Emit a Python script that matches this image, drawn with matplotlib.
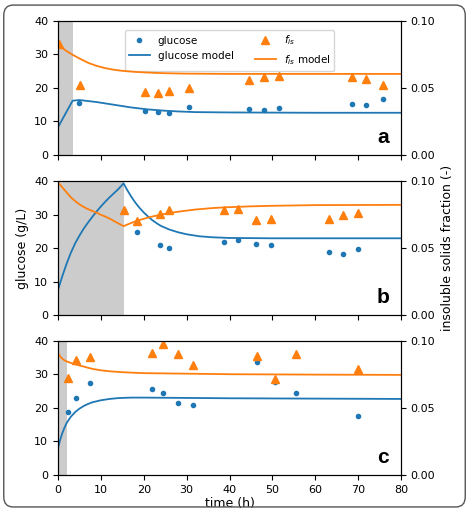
import matplotlib
matplotlib.use('Agg')
import matplotlib.pyplot as plt
from matplotlib.patches import FancyBboxPatch

# --- measured data (time in h) ---
# panel a
t_a = [5.0, 20.2, 23.3, 26.0, 30.5, 44.6, 48.0, 51.6, 68.6, 71.8, 75.7]
glc_a = [15.6, 13.0, 12.7, 12.5, 14.3, 13.6, 13.3, 14.0, 15.1, 15.0, 16.6]
tf_a = [0.3, 5.1, 20.2, 23.3, 26.0, 30.5, 44.6, 48.0, 51.6, 68.6, 71.8, 75.7]
fis_a = [0.0826, 0.052, 0.047, 0.046, 0.048, 0.050, 0.056, 0.058, 0.059, 0.058, 0.0565, 0.052]

# panel b
t_b = [15.4, 18.4, 23.9, 25.8, 38.8, 41.9, 46.2, 49.7, 63.1, 66.5, 69.9]
glc_b = [31.0, 24.9, 20.9, 20.1, 21.7, 22.3, 21.1, 20.8, 18.9, 18.3, 19.6]
tf_b = [15.4, 18.4, 23.9, 25.8, 38.8, 41.9, 46.2, 49.7, 63.1, 66.5, 69.9]
fis_b = [0.078, 0.070, 0.0755, 0.078, 0.078, 0.079, 0.0707, 0.072, 0.0717, 0.075, 0.076]

# panel c
t_c = [2.3, 4.2, 7.4, 21.9, 24.6, 27.9, 31.4, 46.4, 50.6, 55.4, 70.0]
glc_c = [18.7, 23.1, 27.4, 25.8, 24.4, 21.5, 20.9, 33.6, 27.7, 24.6, 17.7]
tf_c = [2.3, 4.2, 7.4, 21.9, 24.6, 27.9, 31.4, 46.4, 50.6, 55.4, 70.0]
fis_c = [0.0727, 0.0858, 0.088, 0.091, 0.0975, 0.090, 0.082, 0.089, 0.0717, 0.090, 0.079]

# --- model curves ---
tm_a = [0, 3.4, 5, 7, 9, 11, 13, 15, 17, 19, 21, 23, 25, 28, 32, 40, 60, 80]
gm_a = [8.3, 16.2, 16.4, 16.1, 15.8, 15.4, 15.0, 14.6, 14.2, 13.9, 13.6, 13.4, 13.2,
        13.0, 12.8, 12.7, 12.6, 12.6]
tfm_a = [0, 1, 2, 3.4, 5, 7, 9, 11, 13, 15, 18, 21, 25, 30, 40, 60, 80]
fm_a = [0.0825, 0.080, 0.0775, 0.0748, 0.0720, 0.0688, 0.0665, 0.0648, 0.0636, 0.0628,
        0.0620, 0.0615, 0.0610, 0.0607, 0.0605, 0.0605, 0.0605]

tm_b = [0, 1, 2, 3, 4, 5, 6, 7, 8, 9, 10, 11, 12, 13, 14, 15.3,
        16, 17, 18, 19, 20, 21, 22, 23, 24, 26, 28, 30, 33, 36, 40, 50, 80]
gm_b = [7.5, 11.6, 15.3, 18.6, 21.4, 23.7, 25.8, 27.6, 29.3, 30.9, 32.4, 33.8, 35.1,
        36.3, 37.5, 39.3,
        37.6, 35.5, 33.6, 32.0, 30.6, 29.4, 28.3, 27.4, 26.6, 25.5, 24.7, 24.1, 23.5,
        23.2, 23.0, 22.9, 22.9]
tfm_b = [0, 1, 2, 3, 4, 5, 6, 7, 8, 9, 10, 11, 12, 13, 14, 15.3,
         16, 17, 18, 19, 20, 21, 22, 23, 25, 28, 32, 36, 40, 45, 50, 60, 80]
fm_b = [0.099, 0.0952, 0.0915, 0.0878, 0.0850, 0.0826, 0.0806, 0.0790, 0.0776, 0.0763,
        0.0748, 0.0735, 0.0720, 0.0702, 0.0685, 0.0663,
        0.0673, 0.0686, 0.0698, 0.0709, 0.0718, 0.0727, 0.0735, 0.0742, 0.0755, 0.0771,
        0.0787, 0.0798, 0.0805, 0.0811, 0.0815, 0.0820, 0.0822]

tm_c = [0, 0.5, 1, 1.5, 2, 3, 4, 5, 6, 7, 8, 10, 12, 14, 17, 20, 30, 40, 60, 80]
gm_c = [8.0, 10.5, 12.5, 14.1, 15.5, 17.4, 18.8, 19.8, 20.6, 21.2, 21.7, 22.3, 22.7,
        22.95, 23.1, 23.1, 23.0, 22.9, 22.8, 22.7]
fm_c = [0.091, 0.0885, 0.0868, 0.0856, 0.0848, 0.0836, 0.0826, 0.0817, 0.0809, 0.0800,
        0.0792, 0.0781, 0.0774, 0.0769, 0.0764, 0.0760, 0.0756, 0.0752, 0.0749, 0.0747]

shade_end = [3.4, 15.3, 2.0]
letters = ['a', 'b', 'c']

BLUE = '#1f77b4'
ORANGE = '#ff7f0e'

panels = [
    (t_a, glc_a, tf_a, fis_a, tm_a, gm_a, tfm_a, fm_a),
    (t_b, glc_b, tf_b, fis_b, tm_b, gm_b, tfm_b, fm_b),
    (t_c, glc_c, tf_c, fis_c, tm_c, gm_c, tm_c, fm_c),
]

fig = plt.figure(figsize=(4.69, 5.09), dpi=100)

# rounded frame around the whole figure
frame = FancyBboxPatch((0.008, 0.004), 0.984, 0.986, boxstyle='round,pad=0,rounding_size=0.02',
                       transform=fig.transFigure, fill=False, edgecolor='#555555', lw=1.0)
fig.patches.append(frame)

left, width, height = 0.1237, 0.7313, 0.2633
bottoms = [0.6955, 0.3811, 0.0668]

for i, (t, g, tf, f, tm, gm, tfm, fm) in enumerate(panels):
    ax = fig.add_axes([left, bottoms[i], width, height])
    ax2 = ax.twinx()
    ax.axvspan(0, shade_end[i], color='0.8', lw=0)
    l1, = ax.plot(t, g, 'o', color=BLUE, ms=3, label='glucose')
    l2, = ax.plot(tm, gm, '-', color=BLUE, lw=1.3, label='glucose model')
    l3, = ax2.plot(tf, f, '^', color=ORANGE, ms=5.5, label=r'$f_{is}$')
    l4, = ax2.plot(tfm, fm, '-', color=ORANGE, lw=1.3, label=r'$f_{is}$ model')

    ax.set_xlim(0, 80)
    ax.set_ylim(0, 40)
    ax2.set_ylim(0, 0.1)
    ax.set_xticks(range(0, 81, 10))
    ax.set_yticks(range(0, 41, 10))
    ax2.set_yticks([0, 0.05, 0.10])
    ax2.set_yticklabels(['0.00', '0.05', '0.10'])
    ax.tick_params(labelsize=8)
    ax2.tick_params(labelsize=8)
    if i < 2:
        ax.tick_params(labelbottom=False)
    else:
        ax.set_xlabel('time (h)', fontsize=9, labelpad=2)

    ax.text(0.965, 0.06, letters[i], transform=ax.transAxes, ha='right', va='bottom',
            fontsize=15, fontweight='bold', family='Liberation Sans')

    if i == 0:
        ax.legend([l1, l2, l3, l4], ['glucose', 'glucose model', r'$f_{is}$', r'$f_{is}$ model'],
                  loc='upper center', ncol=2, fontsize=7.5, bbox_to_anchor=(0.5, 0.975))
    if i == 1:
        ax.set_ylabel('glucose (g/L)', fontsize=9)
        ax2.set_ylabel('insoluble solids fraction (-)', fontsize=9)

fig.savefig('out.png', dpi=100)
